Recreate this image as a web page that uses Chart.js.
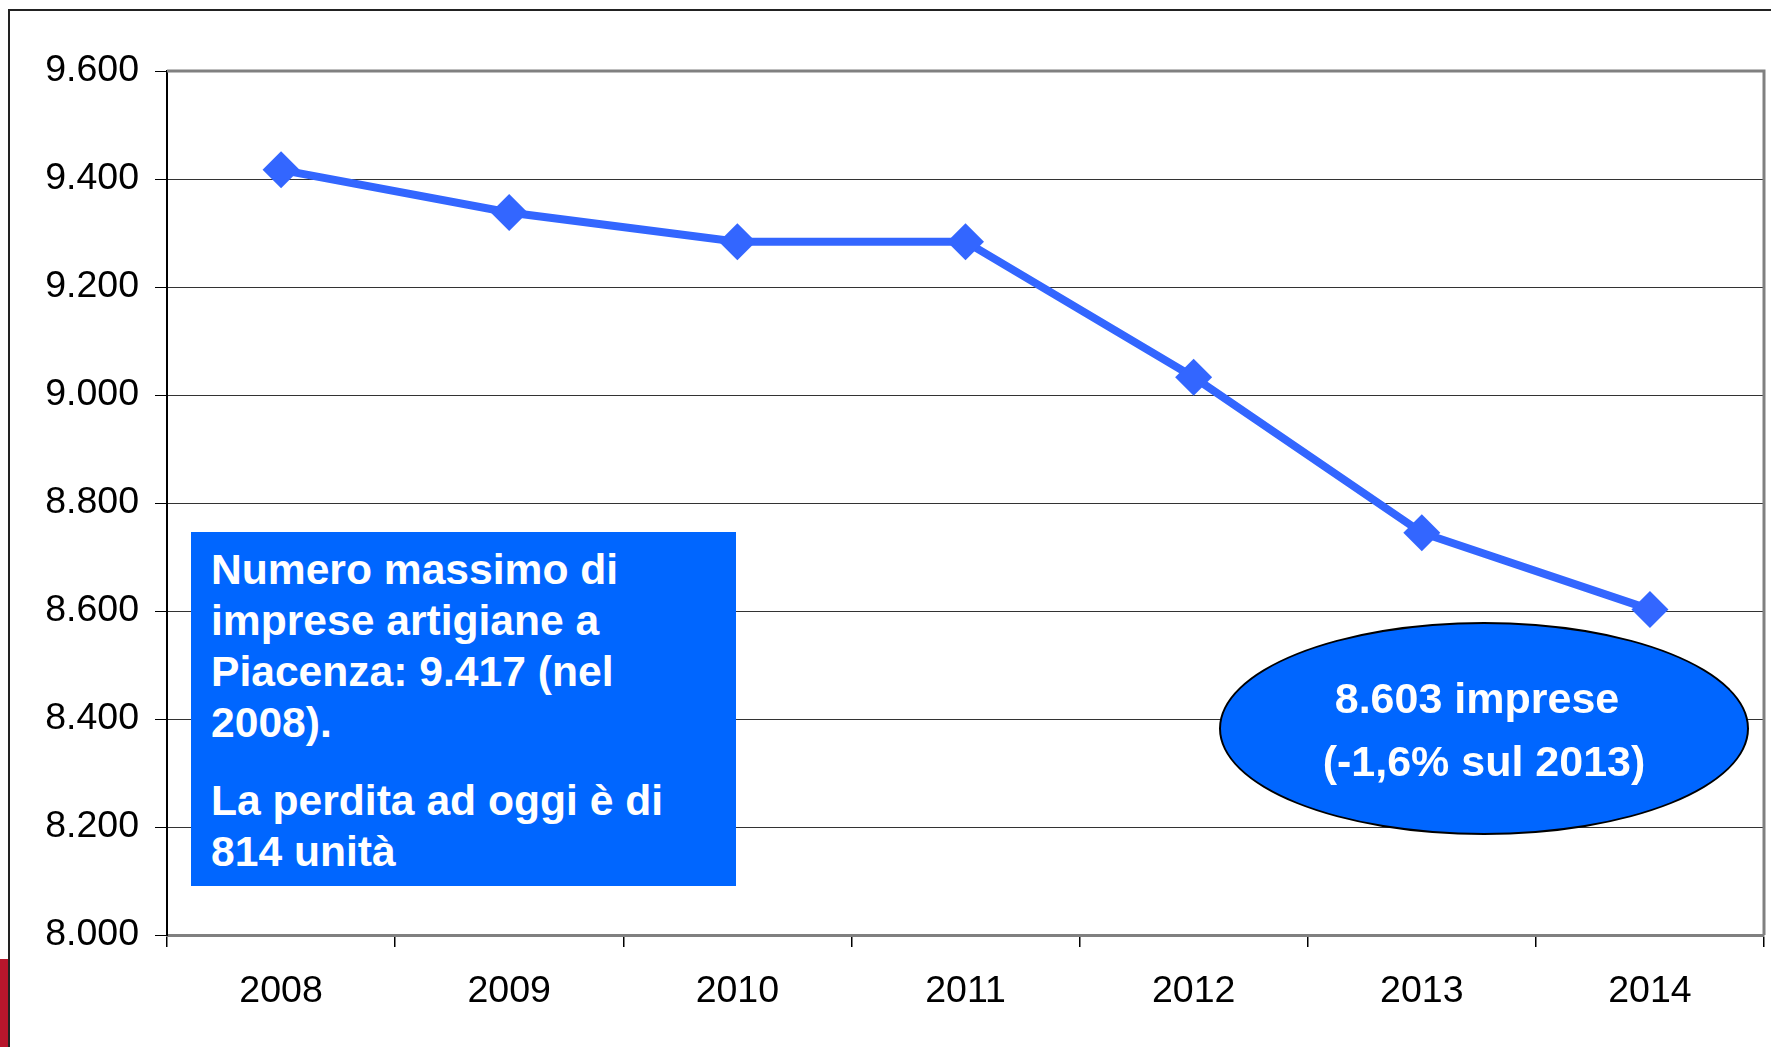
<!DOCTYPE html>
<html>
<head>
<meta charset="utf-8">
<title>Imprese artigiane Piacenza</title>
<script src="https://cdn.jsdelivr.net/npm/chart.js@4.4.1/dist/chart.umd.min.js"></script>
<style>
    body { margin: 0; background: #fff; overflow: hidden; }
    #wrap { position: relative; width: 1771px; height: 1047px; font-family: "Liberation Sans", Arial, sans-serif; }
    #wrap canvas { position: absolute; left: 0; top: 0; }
    .frame-top { position: absolute; left: 8px; top: 9px; width: 1763px; height: 2px; background: #222; }
    .frame-left { position: absolute; left: 8px; top: 9px; width: 2px; height: 1038px; background: #222; }
    .red-tab { position: absolute; left: 0; top: 959px; width: 8px; height: 88px; background: #b8162c; }
    .note-box { position: absolute; left: 191px; top: 532px; width: 545px; height: 354px; background: #0066ff; }
    .note-text { position: absolute; left: 211px; top: 544px; color: #fff; font-weight: bold; font-size: 42.6px; line-height: 51px; white-space: nowrap; }
    .note-text p { margin: 0; }
    .note-text p + p { margin-top: 27px; }
    .oval { position: absolute; left: 1219px; top: 622px; width: 530px; height: 213px; box-sizing: border-box; border: 2px solid #000; border-radius: 50%; background: #0066ff; }
    .oval-text { position: absolute; left: 1219px; top: 667px; width: 530px; text-align: center; color: #fff; font-weight: bold; font-size: 43px; line-height: 63px; white-space: nowrap; }
    .oval-text .l1 { display: block; padding-right: 14px; }
</style>
</head>
<body>
<div id="wrap">
    <canvas id="trendChart" width="1771" height="1047"></canvas>
    <div class="frame-top"></div>
    <div class="frame-left"></div>
    <div class="red-tab"></div>
    <div class="note-box"></div>
    <div class="note-text">
        <p>Numero massimo di<br>imprese artigiane a<br>Piacenza: 9.417 (nel<br>2008).</p>
        <p>La perdita ad oggi è di<br>814 unità</p>
    </div>
    <div class="oval"></div>
    <div class="oval-text"><span class="l1">8.603 imprese</span>(-1,6% sul 2013)</div>
</div>
<script>
const years = ['2008', '2009', '2010', '2011', '2012', '2013', '2014'];
const imprese = [9417, 9338, 9284, 9284, 9033, 8745, 8603];
const yMin = 8000;
const yMax = 9600;
const yStep = 200;

// thousands with a dot, as in the original (it-IT skips grouping for 4 digits)
function fmtDot(v) {
    return String(v).replace(/\B(?=(\d{3})+(?!\d))/g, '.');
}

// grey frame on top and right of the plot area
const plotFrame = {
    id: 'plotFrame',
    afterDraw(chart) {
        const { ctx, chartArea: a } = chart;
        ctx.save();
        ctx.strokeStyle = '#808080';
        ctx.lineWidth = 3;
        ctx.beginPath();
        ctx.moveTo(a.left, a.top);
        ctx.lineTo(a.right, a.top);
        ctx.lineTo(a.right, a.bottom);
        ctx.stroke();
        ctx.restore();
    }
};

document.addEventListener('DOMContentLoaded', () => {
    const ctx = document.getElementById('trendChart').getContext('2d');
    new Chart(ctx, {
        type: 'line',
        data: {
            labels: years,
            datasets: [{
                data: imprese,
                borderColor: '#3366ff',
                backgroundColor: '#3366ff',
                borderWidth: 8,
                pointStyle: 'rectRot',
                pointRadius: 18.5,
                pointBorderWidth: 0,
                pointBackgroundColor: '#3366ff',
                tension: 0,
                fill: false
            }]
        },
        options: {
            responsive: false,
            animation: false,
            devicePixelRatio: 1,
            // autoPadding would reserve room for the big diamonds on the right
            layout: { autoPadding: false, padding: { top: 71, right: 7, left: 0, bottom: 0 } },
            plugins: { legend: { display: false }, tooltip: { enabled: false } },
            scales: {
                x: {
                    offset: true,
                    grid: { offset: true, drawOnChartArea: false, drawTicks: true, tickLength: 12, color: '#000', lineWidth: 1.5 },
                    border: { color: '#808080', width: 3 },
                    ticks: { color: '#000', padding: 22, font: { family: 'Liberation Sans', size: 37.5 } },
                    afterFit: s => { s.height = 112; s.paddingLeft = 0; s.paddingRight = 0; }
                },
                y: {
                    min: yMin,
                    max: yMax,
                    grid: { color: '#333', lineWidth: 1, tickLength: 12, tickColor: '#000' },
                    border: { color: '#000', width: 2 },
                    ticks: { stepSize: yStep, color: '#000', padding: 16, font: { family: 'Liberation Sans', size: 37.5 }, callback: v => fmtDot(v) },
                    afterFit: s => { s.width = 167; }
                }
            }
        },
        plugins: [plotFrame]
    });
});
</script>
</body>
</html>
